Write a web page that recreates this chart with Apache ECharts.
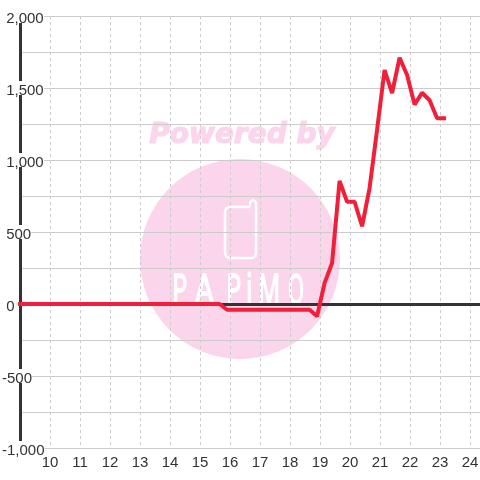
<!DOCTYPE html>
<html>

<head>
    <meta charset="utf-8" />
    <title>ECharts</title>
    <script src="https://cdn.jsdelivr.net/npm/echarts@6/dist/echarts.min.js"></script>
    <style>
        html, body {
            margin: 0;
            padding: 0;
            background: #fff;
        }

        #main {
            width: 480px;
            height: 480px;
        }
    </style>
</head>

<body>
    <div id="main"></div>
    <script type="text/javascript">
        // hour of day / value
        var hours = [8.92, 15.65, 15.9, 18.65, 18.9, 19.15, 19.4, 19.65, 19.9, 20.15, 20.4, 20.65, 20.9, 21.15, 21.4, 21.65, 21.9, 22.15, 22.4, 22.65, 22.9, 23.2];
        var values = [0, 0, -40, -40, -85, 145, 285, 855, 710, 710, 540, 805, 1210, 1625, 1465, 1710, 1590, 1385, 1467, 1415, 1290, 1290];
        var logoLetters = ['P', 'A', 'P', 'i', 'M', 'O'];

        var pink = '#fbd5ec';
        var points = [];
        for (var i = 0; i < hours.length; i++) {
            points.push([hours[i], values[i]]);
        }

        // watermark sits behind the grid
        var watermark = [{
            type: 'circle',
            z: -10,
            shape: { cx: 240, cy: 259, r: 100 },
            style: { fill: pink }
        }, {
            type: 'text',
            z: -10,
            x: 242,
            y: 136,
            style: {
                text: 'Powered by',
                fill: pink,
                stroke: pink,
                lineWidth: 1.2,
                font: 'italic bold 28px "DejaVu Sans"',
                align: 'center',
                verticalAlign: 'middle'
            }
        }, {
            // phone outline with its little antenna
            type: 'polyline',
            z: -9,
            shape: {
                points: [[250, 207], [229, 207], [226, 208.5], [225, 212], [225, 253], [226, 256.5], [229, 258], [252, 258], [255, 256.5], [256, 253], [256, 203], [255, 201], [253, 200], [251, 201], [250, 203], [250, 207]]
            },
            style: { fill: 'none', stroke: '#fff', lineWidth: 2.5, lineJoin: 'round' }
        }];
        var letterX = [172, 195, 226, 246, 258, 288];
        var letterScale = [0.62, 0.72, 0.62, 0.62, 0.6, 0.5];
        for (var k = 0; k < logoLetters.length; k++) {
            watermark.push({
                type: 'text',
                z: -9,
                x: letterX[k],
                y: 272,
                scaleX: letterScale[k],
                style: {
                    text: logoLetters[k],
                    fill: '#fff',
                    stroke: '#fff',
                    lineWidth: 1.5,
                    font: '41px "Noto Sans"'
                }
            });
        }

        var myChart = echarts.init(document.getElementById('main'));
        var option = {
            animation: false,
            graphic: watermark,
            grid: { left: 20, right: 0, top: 16, bottom: 32, outerBoundsMode: 'none' },
            xAxis: [{
                type: 'value',
                min: 9,
                max: 24.33,
                interval: 1,
                axisLine: { show: true, onZero: false, lineStyle: { color: '#ccc', width: 1 } },
                axisTick: { show: false },
                axisLabel: {
                    showMinLabel: false,
                    showMaxLabel: false,
                    color: '#333',
                    fontFamily: 'Liberation Sans',
                    fontSize: 15,
                    margin: 7
                },
                splitLine: {
                    showMinLine: false,
                    showMaxLine: false,
                    lineStyle: { color: '#ccc', type: [3, 3] }
                }
            }, {
                // the heavy zero line
                type: 'value',
                min: 9,
                max: 24.33,
                position: 'bottom',
                axisLine: { show: true, onZero: true, lineStyle: { color: '#333', width: 3 } },
                axisTick: { show: false },
                axisLabel: { show: false },
                splitLine: { show: false }
            }],
            yAxis: {
                type: 'value',
                min: -1000,
                max: 2000,
                interval: 250,
                axisLine: { show: true, onZero: false, lineStyle: { color: '#333', width: 3 } },
                axisTick: { show: false },
                axisLabel: {
                    align: 'left',
                    margin: 18,
                    backgroundColor: '#fff',
                    formatter: function (v) {
                        if (v % 500 !== 0) {
                            return '';
                        }
                        // positive labels start a space right of the minus sign
                        return '{t|' + (v < 0 ? '' : '\u00a0') + v.toLocaleString('en-US') + '}';
                    },
                    rich: {
                        // token padding is the only way to nudge the text below the grid line
                        t: {
                            color: '#333',
                            fontFamily: 'Liberation Sans',
                            fontSize: 15,
                            lineHeight: 14,
                            padding: [5, 0, 0, 0]
                        }
                    }
                },
                splitLine: { lineStyle: { color: '#ccc', width: 1 } }
            },
            series: [{
                type: 'line',
                data: points,
                symbol: 'none',
                clip: false,
                z: 5,
                lineStyle: { color: '#f0203a', width: 4, cap: 'butt', join: 'bevel' }
            }]
        };
        myChart.setOption(option);
    </script>
</body>

</html>
